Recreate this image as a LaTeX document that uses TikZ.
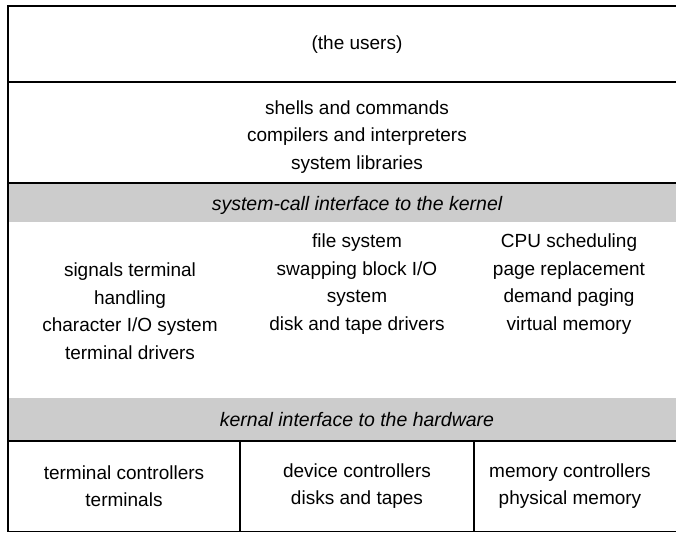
\documentclass[tikz,border=0pt]{standalone}
\usepackage{fontspec}
\setmainfont{Liberation Sans}
\begin{document}
\begin{tikzpicture}[x=1pt,y=-1pt,
  rule/.style={line width=1.4pt},
  band/.style={fill=black!20, draw=none},
  lbl/.style={font=\fontsize{19}{27.5}\selectfont, align=center, inner sep=0pt},
  ital/.style={lbl, font=\fontsize{19.5}{27.5}\selectfont\itshape}]
\useasboundingbox (0,0) rectangle (676,532);
% shaded interface bands
\fill[band] (8,183) rectangle (700,222);
\fill[band] (8,398) rectangle (700,441);
% frame and layer dividers
\draw[rule] (700,6) -- (8,6) -- (8,531.5) -- (700,531.5);
\draw[rule] (8,82) -- (700,82);
\draw[rule] (8,183) -- (700,183);
\draw[rule] (8,441) -- (700,441);
\draw[rule] (240,441) -- (240,531.5);
\draw[rule] (474,441) -- (474,531.5);
% layer contents
\node[lbl] (users) at (357,45) {(the users)};
\node[lbl] (shells) at (357,137) {shells and commands\\compilers and interpreters\\system libraries};
\node[ital] (syscall) at (357,205) {system-call interface to the kernel};
\node[lbl] (sig) at (130,311) {signals terminal\\handling\\character I/O system\\terminal drivers};
\node[lbl] (fs) at (357,284) {file system\\swapping block I/O\\system\\disk and tape drivers};
\node[lbl] (cpu) at (569,284) {CPU scheduling\\page replacement\\demand paging\\virtual memory};
\node[ital] (kif) at (357,420) {kernal interface to the hardware};
\node[lbl] (term) at (124,486) {terminal controllers\\terminals};
\node[lbl] (dev) at (357,486) {device controllers\\disks and tapes};
\node[lbl] (mem) at (570,486) {memory controllers\\physical memory};
\end{tikzpicture}
\end{document}
